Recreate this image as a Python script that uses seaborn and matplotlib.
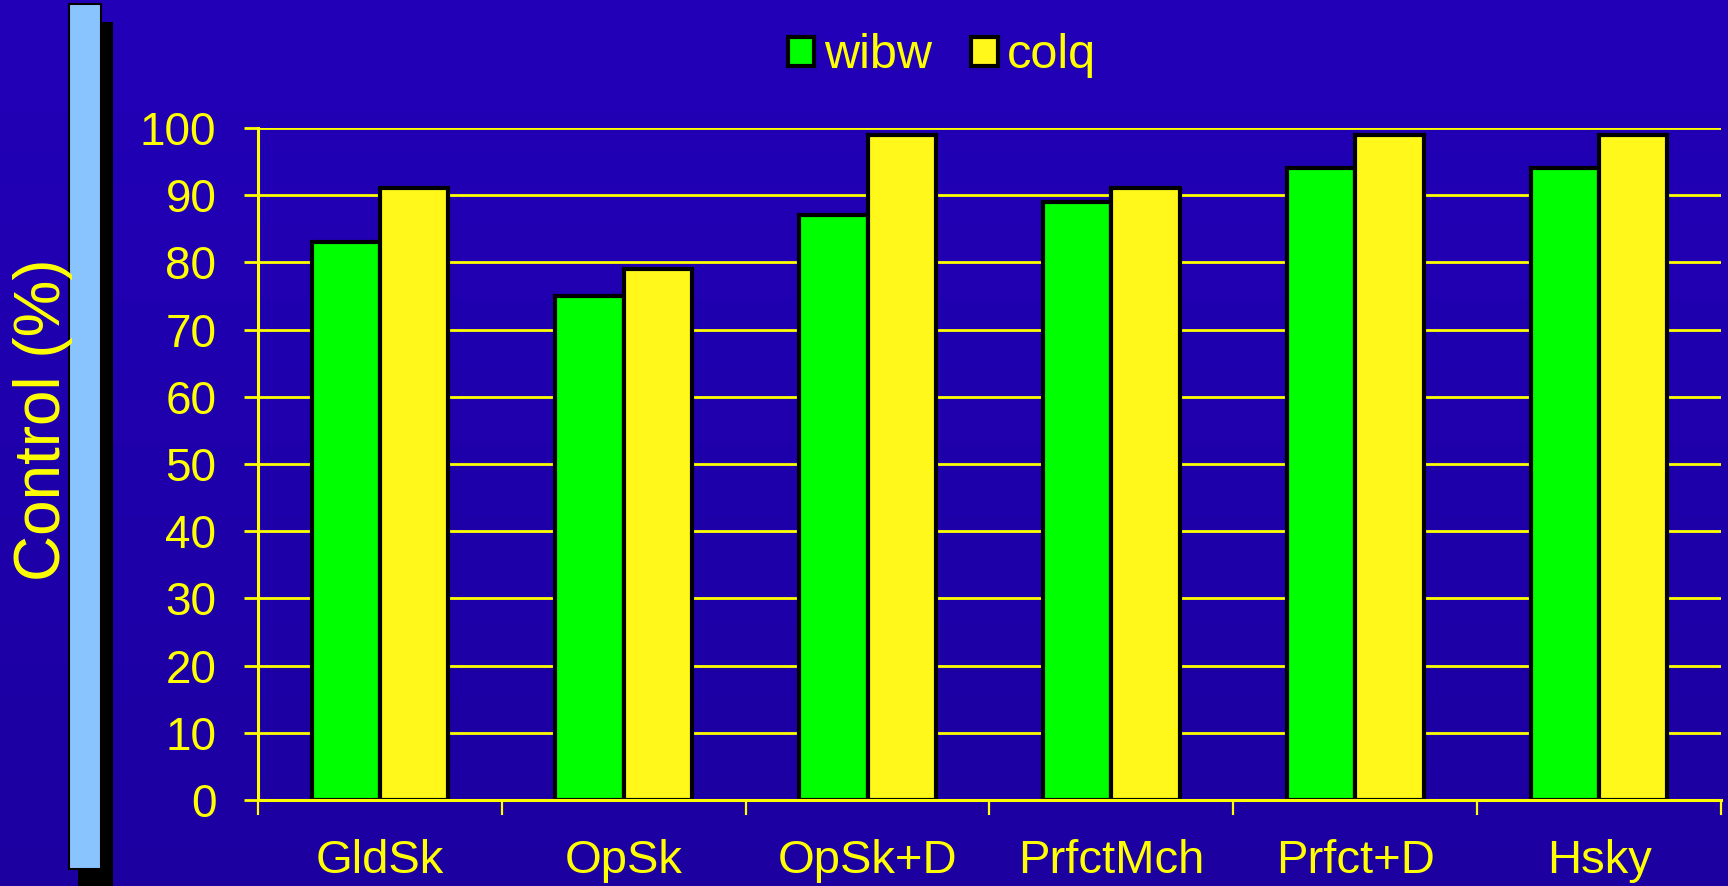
import numpy as np
import pandas as pd
import matplotlib
matplotlib.use("Agg")
import matplotlib.pyplot as plt
from matplotlib.patches import Rectangle
import seaborn as sns

categories = ["GldSk", "OpSk", "OpSk+D", "PrfctMch", "Prfct+D", "Hsky"]
wibw = [83, 75, 87, 89, 94, 94]
colq = [91, 79, 99, 91, 99, 99]
series_names = ["wibw", "colq"]
y_ticks = [0, 10, 20, 30, 40, 50, 60, 70, 80, 90, 100]

df = pd.DataFrame({
    "category": categories * 2,
    "series": [series_names[0]] * len(categories) + [series_names[1]] * len(categories),
    "value": wibw + colq,
})

sns.set_theme(style="white")
plt.rcParams["font.family"] = ["Liberation Sans", "DejaVu Sans"]

YEL = "#FFFF00"
BG_TOP = np.array([0x22, 0x00, 0xB8]) / 255
BG_BOT = np.array([0x1C, 0x00, 0xA0]) / 255

W, H = 1728, 886
fig = plt.figure(figsize=(W / 100, H / 100), dpi=100)

# background gradient
bg = fig.add_axes([0, 0, 1, 1], zorder=-10)
grad = np.linspace(0, 1, 256)[:, None, None]
img = BG_TOP * (1 - grad) + BG_BOT * grad
bg.imshow(np.repeat(img, 2, axis=1), aspect="auto", extent=[0, 1, 0, 1])
bg.set_axis_off()

# decorative bar on the left with shadow (figure pixel coords)
def px_rect(x0, y0, x1, y1, **kw):
    return Rectangle((x0 / W, 1 - y1 / H), (x1 - x0) / W, (y1 - y0) / H,
                     transform=fig.transFigure, **kw)

fig.patches.append(px_rect(78, 22, 113, 890, facecolor="black", edgecolor="none", zorder=1))
fig.patches.append(px_rect(69, 4, 101, 869, facecolor="#8AC4FF", edgecolor="black", linewidth=1.5, zorder=2))

left, right, top, bottom = 258, 1721, 128, 800
ax = fig.add_axes([left / W, 1 - bottom / H, (right - left) / W, (bottom - top) / H])
ax.set_facecolor("none")

sns.barplot(data=df, x="category", y="value", hue="series", order=categories,
            hue_order=series_names, palette=["#00FF00", "#FFF81A"],
            width=0.56, gap=0, edgecolor="black", linewidth=3.0, saturation=1,
            ax=ax, zorder=3)

ax.set_ylim(0, 100)
ax.set_xlim(-0.5, len(categories) - 0.5)
ax.set_yticks(y_ticks)
ax.set_yticklabels([str(t) for t in y_ticks])
ax.yaxis.grid(True, color=YEL, linewidth=2.0)
ax.set_axisbelow(True)
ax.set_xlabel("")
ax.set_ylabel("")

for s in ["top", "right"]:
    ax.spines[s].set_visible(False)
for s in ["left", "bottom"]:
    ax.spines[s].set_color(YEL)
    ax.spines[s].set_linewidth(2.2)
    ax.spines[s].set_zorder(4)

ax.tick_params(axis="y", colors=YEL, labelsize=33, length=10, width=2.0,
               direction="out", pad=20, left=True)
ax.tick_params(axis="x", which="major", colors=YEL, labelsize=34, length=0, pad=28)
ax.set_xticks(np.arange(-0.5, len(categories), 1.0), minor=True)
ax.tick_params(axis="x", which="minor", color=YEL, length=11, width=1.6,
               direction="out", bottom=True)
for lbl in ax.get_xticklabels() + ax.get_yticklabels():
    lbl.set_color(YEL)

# legend
handles, labels = ax.get_legend_handles_labels()
if ax.legend_:
    ax.legend_.remove()
leg = fig.legend(handles, labels, loc="center", bbox_to_anchor=(942 / W, 1 - 56 / H),
                 ncol=2, frameon=False, fontsize=35, handlelength=0.55,
                 handleheight=0.55, handletextpad=0.2, columnspacing=0.8,
                 labelcolor=YEL)
for h in leg.legend_handles:
    h.set_edgecolor("black")
    h.set_linewidth(3.0)

fig.text(43 / W, 1 - 420 / H, "Control (%)", rotation=90, color=YEL,
         fontsize=46, ha="center", va="center", zorder=5)

fig.savefig("out.png", dpi=100)
